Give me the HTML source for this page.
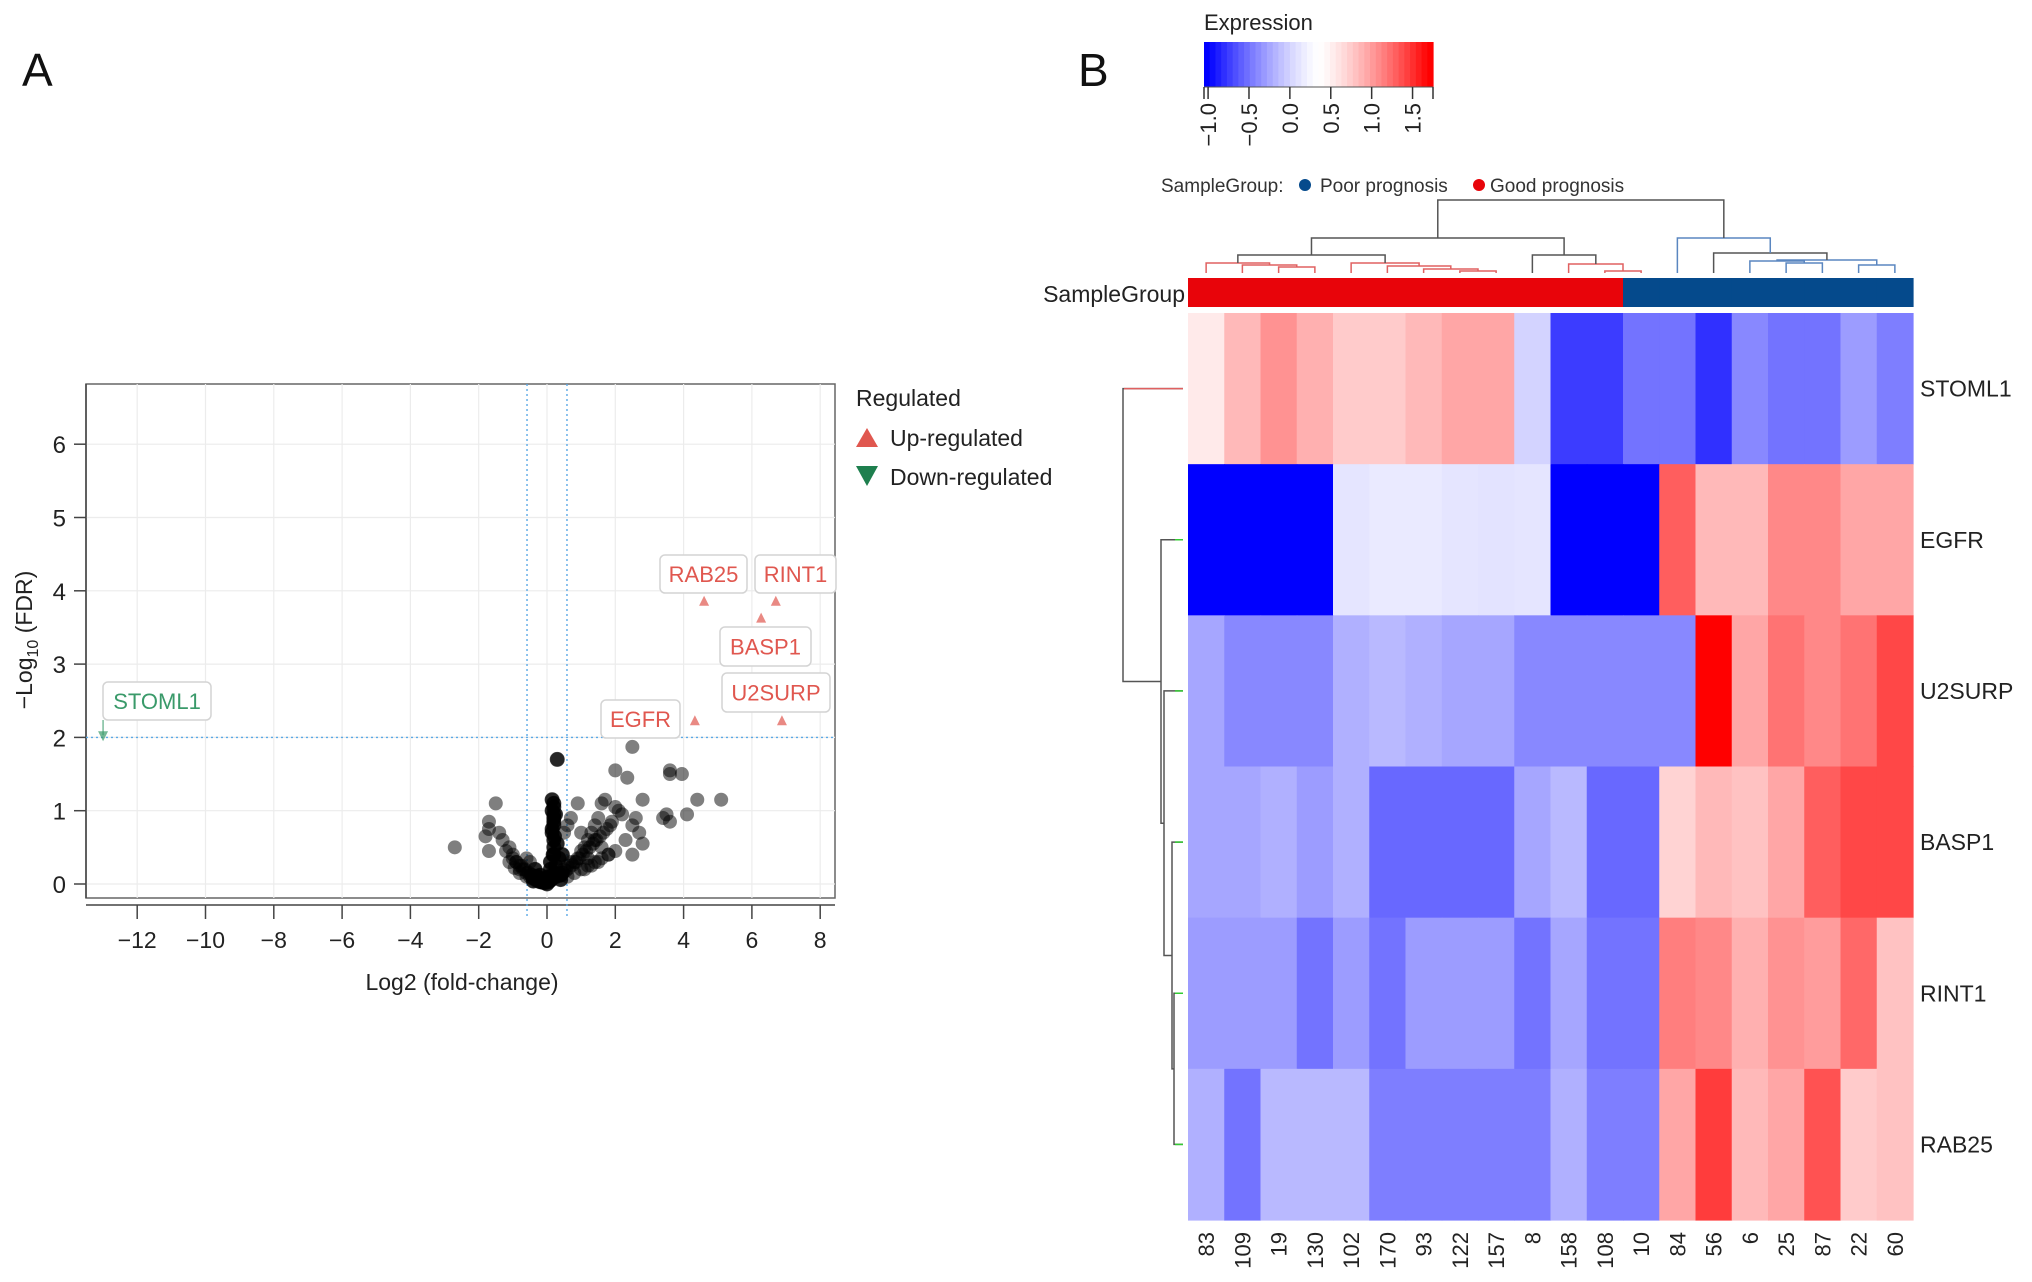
<!DOCTYPE html>
<html><head><meta charset="utf-8">
<style>
html,body{margin:0;padding:0;background:#fff;}
svg{display:block;font-family:"Liberation Sans",sans-serif;}
</style></head>
<body>
<svg id="fig" width="2032" height="1282" viewBox="0 0 2032 1282" xmlns="http://www.w3.org/2000/svg">
<text x="22" y="86" font-size="46" fill="#111">A</text>
<text x="1078" y="86" font-size="46" fill="#111">B</text>
<g id="volcano"></g>
<g id="heat"></g>
</svg>
<script>
// ---------- Volcano data ----------
const xTicks = [-12,-10,-8,-6,-4,-2,0,2,4,6,8];
const yTicks = [0,1,2,3,4,5,6];
const bgX = [0.3,2.5,2.0,2.35,3.6,3.6,3.95,4.4,5.1,4.1,3.4,3.6,3.5,2.8,2.5,2.7,2.8,2.5,2.3,2.0,1.7,1.6,1.5,1.4,1.3,1.2,1.1,1.0,0.9,0.8,1.6,1.8,1.5,1.3,0.9,0.6,0.5,1.0,2.2,2.6,-1.5,-1.7,-1.7,-1.7,-1.4,-1.3,-1.1,-1.0,-0.9,-0.8,-0.7,-2.7,-1.8,-0.6,-0.5,-0.4,-0.3,-0.2,0.2,0.1,0.15,0.2,0.15,0.2,0.2,0.15,0.2,0.2,0.1,0.05,0.3,0.4,0.5,0.6,0.7,-0.1,0,0.1,-0.35,0.35,0.25,-0.6,1.1,1.2,0.2,0.2,0.2,0.15,-0.2,-0.1,0.0,0.1,0.3,0.45,-0.5,-0.8,1.9,2.1,1.4,0.7,
 -1.2,-1.0,-0.9,-0.75,-0.65,-0.55,-0.45,-0.35,-0.25,-0.15,-0.05,0.05,0.12,0.25,0.35,0.45,0.55,0.65,0.75,0.85,0.95,1.05,1.15,1.25,1.35,1.45,1.55,1.65,1.75,1.85,-1.1,-0.95,-0.8,-0.6,-0.4,0.4,0.6,0.8,1.0,1.2,1.4,1.6,1.8,2.0,-0.3,-0.15,0.0,0.18,0.22,0.25];
const bgY = [1.7,1.87,1.55,1.45,1.55,1.5,1.5,1.15,1.15,0.95,0.9,0.85,0.95,1.15,0.8,0.7,0.55,0.4,0.6,1.05,1.15,1.1,0.9,0.8,0.7,0.6,0.5,0.45,0.35,0.3,0.5,0.4,0.3,0.25,1.1,0.8,0.7,0.7,0.95,0.9,1.1,0.85,0.75,0.45,0.7,0.6,0.5,0.4,0.3,0.25,0.2,0.5,0.65,0.15,0.1,0.08,0.05,0.03,0.4,0.2,1.15,1.1,1.0,0.9,0.8,0.7,0.6,0.5,0.3,0.1,0.15,0.12,0.2,0.25,0.3,0.02,0,0.05,0.2,0.35,0.25,0.35,0.2,0.35,1.05,0.95,0.85,0.75,0.12,0.08,0.05,0.1,0.55,0.4,0.3,0.2,0.85,1.0,0.6,0.9,
 0.45,0.35,0.3,0.25,0.2,0.16,0.12,0.08,0.05,0.03,0.02,0.03,0.06,0.1,0.12,0.15,0.18,0.22,0.26,0.3,0.35,0.4,0.45,0.5,0.55,0.6,0.65,0.7,0.75,0.8,0.3,0.22,0.15,0.1,0.04,0.06,0.1,0.15,0.2,0.25,0.3,0.35,0.4,0.45,0.1,0.06,0.08,0.4,0.65,0.95];
const sigGenes = ["RAB25","RINT1","BASP1","U2SURP","EGFR","STOML1"];
const sigX = [4.6,6.7,6.27,6.88,4.33,-13.0];
const sigY = [3.85,3.85,3.62,2.22,2.22,2.03];
const sigDir = ["up","up","up","up","up","down"];

// ---------- Heatmap data ----------
const samples = ["83","109","19","130","102","170","93","122","157","8","158","108","10","84","56","6","25","87","22","60"];
const sampleGroup = ["G","G","G","G","G","G","G","G","G","G","G","G","P","P","P","P","P","P","P","P"];
const genes = ["STOML1","EGFR","U2SURP","BASP1","RINT1","RAB25"];
const exprSTOML1 = [0.55,0.85,1.05,0.9,0.75,0.75,0.85,0.95,0.95,0.0,-0.75,-0.75,-0.5,-0.5,-0.8,-0.4,-0.5,-0.5,-0.3,-0.45];
const exprEGFR   = [-1,-1,-1,-1,0.12,0.15,0.15,0.12,0.1,0.12,-1,-1,-1,1.3,0.85,0.85,1.1,1.1,0.95,0.95];
const exprU2SURP = [-0.25,-0.4,-0.4,-0.4,-0.2,-0.15,-0.2,-0.25,-0.25,-0.4,-0.4,-0.4,-0.4,-0.4,1.7,0.95,1.2,1.1,1.2,1.4];
const exprBASP1  = [-0.25,-0.25,-0.2,-0.3,-0.2,-0.55,-0.55,-0.55,-0.55,-0.25,-0.15,-0.55,-0.55,0.7,0.85,0.8,0.95,1.3,1.4,1.4];
const exprRINT1  = [-0.3,-0.3,-0.3,-0.5,-0.3,-0.5,-0.3,-0.3,-0.3,-0.5,-0.25,-0.5,-0.5,1.15,1.1,0.9,1.05,1.0,1.25,0.8];
const exprRAB25  = [-0.2,-0.5,-0.15,-0.15,-0.15,-0.45,-0.45,-0.45,-0.45,-0.45,-0.2,-0.45,-0.45,0.95,1.45,0.85,0.95,1.35,0.75,0.8];
const exprRows = [exprSTOML1,exprEGFR,exprU2SURP,exprBASP1,exprRINT1,exprRAB25];
const legendTicks = [-1.0,-0.5,0.0,0.5,1.0,1.5];

const NS="http://www.w3.org/2000/svg";
function mk(parent,tag,attrs,text){const e=document.createElementNS(NS,tag);for(const k in attrs)e.setAttribute(k,attrs[k]);if(text!==undefined)e.textContent=text;parent.appendChild(e);return e;}

// ---------- Volcano ----------
(function(){
const g=document.getElementById('volcano');
const L=86,R=835,T=384,B=898;
const sx=v=>547+v*34.15, sy=v=>884-v*73.3;
const panel=mk(g,'rect',{x:L,y:T,width:R-L,height:B-T,fill:'#fff',stroke:'#666','stroke-width':1.5});


xTicks.forEach(t=>{
  const gl=mk(g,'line',{x1:sx(t),x2:sx(t),y1:T,y2:B,stroke:'#ececec','stroke-width':1.2});
  
  
  mk(g,'line',{x1:sx(t),x2:sx(t),y1:905,y2:919,stroke:'#444','stroke-width':1.5});
  const tl=mk(g,'text',{x:sx(t),y:948,'font-size':23,'text-anchor':'middle',fill:'#222'},(t<0?'\u2212'+(-t):t));
  
  
});
yTicks.forEach(t=>{
  const gl=mk(g,'line',{x1:L,x2:R,y1:sy(t),y2:sy(t),stroke:'#ececec','stroke-width':1.2});
  
  
  mk(g,'line',{x1:74,x2:L,y1:sy(t),y2:sy(t),stroke:'#444','stroke-width':1.5});
  const tl=mk(g,'text',{x:66,y:sy(t)+9,'font-size':24,'text-anchor':'end',fill:'#222'},t);
  
  
});
mk(g,'line',{x1:L,x2:R,y1:905,y2:905,stroke:'#444','stroke-width':1.5});
mk(g,'line',{x1:L,x2:L,y1:T,y2:B,stroke:'#444','stroke-width':1.5});
[-0.585,0.585].forEach(v=>{const l=mk(g,'line',{x1:sx(v),x2:sx(v),y1:T,y2:918,stroke:'#5aa9e6','stroke-width':1.4,'stroke-dasharray':'2,3'});
 
 });
const hl=mk(g,'line',{x1:L,x2:R,y1:sy(2),y2:sy(2),stroke:'#5aa9e6','stroke-width':1.4,'stroke-dasharray':'2,3'});


for(let i=0;i<bgX.length;i++){
  const c=mk(g,'circle',{cx:sx(bgX[i]),cy:sy(bgY[i]),r:7,fill:'#000','fill-opacity':0.5});
  
  
}
for(let i=0;i<bgX.length;i++){ if(Math.abs(bgX[i])<0.5){
  const c=mk(g,'circle',{cx:sx(bgX[i]),cy:sy(bgY[i]),r:7.5,fill:'#000','fill-opacity':0.7});
  
  
}}
const boxes={RAB25:[660,555,87,38],RINT1:[755,555,81,38],BASP1:[720,627,91,39],U2SURP:[722,673,108,39],EGFR:[601,700,79,38],STOML1:[103,682,108,38]};
sigGenes.forEach((n,i)=>{
  const up=sigDir[i]==='up', col=up?'#e0574f':'#3a9a6a';
  const px=sx(sigX[i]), py=sy(sigY[i]);
  const tri=mk(g,'path',{d:up?`M${px-5},${py+4}L${px+5},${py+4}L${px},${py-6}Z`:`M${px-5},${py-4}L${px+5},${py-4}L${px},${py+6}Z`,fill:col,'fill-opacity':0.7});
  
  
  const b=boxes[n];
  const r=mk(g,'rect',{x:b[0],y:b[1],width:b[2],height:b[3],rx:5,fill:'#fff',stroke:'#d4d4d4','stroke-width':1.5});
  
  
  const t=mk(g,'text',{x:b[0]+b[2]/2,y:b[1]+b[3]/2+8,'font-size':22,'text-anchor':'middle',fill:col},n);
  
  
});
mk(g,'line',{x1:sx(-13),x2:sx(-13),y1:720,y2:sy(2.03),stroke:'#3a9a6a','stroke-width':1});
const xt=mk(g,'text',{x:462,y:990,'font-size':23,'text-anchor':'middle',fill:'#222'},'Log2 (fold-change)');


const yt=mk(g,'text',{transform:'translate(32,640) rotate(-90)','font-size':23,'text-anchor':'middle',fill:'#222'});


yt.innerHTML='\u2212Log<tspan font-size="16" dy="6">10</tspan><tspan dy="-6"> (FDR)</tspan>';
const lt=mk(g,'text',{x:856,y:406,'font-size':23,fill:'#222'},'Regulated');


const u=mk(g,'path',{d:'M856,447L878,447L867,428Z',fill:'#e0574f'});


const ut=mk(g,'text',{x:890,y:446,'font-size':23,fill:'#222'},'Up-regulated');


const d=mk(g,'path',{d:'M856,466L878,466L867,486Z',fill:'#1e7f4e'});


const dt=mk(g,'text',{x:890,y:485,'font-size':23,fill:'#222'},'Down-regulated');


})();

// ---------- Heatmap ----------
(function(){
const g=document.getElementById('heat');
const HL=1188,HR=1913,HT=313,HB=1220;
const cw=(HR-HL)/samples.length, rh=(HB-HT)/genes.length;
const vmin=-1.05,vmid=0.35,vmax=1.75;
function col(v){
  let r,gg,b;
  if(v<=vmid){let t=Math.min(1,(vmid-v)/(vmid+1));t=Math.pow(t,1.3);r=Math.round(255*(1-t));gg=r;b=255;}
  else{let t=Math.min(1,(v-vmid)/(1.7-vmid));t=Math.pow(t,1.3);r=255;gg=Math.round(255*(1-t));b=gg;}
  return `rgb(${r},${gg},${b})`;
}
exprRows.forEach((row,ri)=>{
  row.forEach((v,ci)=>{
    const c=mk(g,'rect',{x:HL+ci*cw,y:HT+ri*rh,width:cw+0.6,height:rh+0.6,fill:col(v)});
    
    
  });
  const t=mk(g,'text',{x:HR+7,y:HT+ri*rh+rh/2+8,'font-size':23,fill:'#222'},genes[ri]);
  
  
});
samples.forEach((s,ci)=>{
  const cx=HL+ci*cw+cw/2;
  const r=mk(g,'rect',{x:HL+ci*cw,y:278,width:cw+0.6,height:29,fill:sampleGroup[ci]==='G'?'#e8040a':'#054a8c'});
  
  
  const t=mk(g,'text',{transform:`translate(${cx+8},1232) rotate(-90)`,'font-size':22,'text-anchor':'end',fill:'#222'},s);
  
  
});
const sgl=mk(g,'text',{x:HL-3,y:302,'font-size':23,'text-anchor':'end',fill:'#222'},'SampleGroup');


const lg=mk(g,'text',{x:1161,y:192,'font-size':19,fill:'#333'},'SampleGroup:');


mk(g,'circle',{cx:1305,cy:185,r:6,fill:'#054a8c'});
const lp=mk(g,'text',{x:1320,y:192,'font-size':19,fill:'#333'},'Poor prognosis');


mk(g,'circle',{cx:1479,cy:185,r:6,fill:'#e8040a'});
const lgd=mk(g,'text',{x:1490,y:192,'font-size':19,fill:'#333'},'Good prognosis');


const CL=1204,CR=1433,CT=42,CB=87;
const cs=v=>CL+(v-vmin)/(vmax-vmin)*(CR-CL);
const steps=40;
for(let i=0;i<steps;i++){
  const v=vmin+(i+0.5)*(vmax-vmin)/steps;
  mk(g,'rect',{x:CL+i*(CR-CL)/steps,y:CT,width:(CR-CL)/steps+0.6,height:CB-CT,fill:col(v)});
}
const et=mk(g,'text',{x:1204,y:30,'font-size':22,fill:'#222'},'Expression');


mk(g,'line',{x1:CL,x2:CR,y1:CB,y2:CB,stroke:'#555','stroke-width':1});
mk(g,'line',{x1:CR,x2:CR,y1:CB,y2:CB+12,stroke:'#333','stroke-width':1.5});
mk(g,'line',{x1:CL,x2:CL,y1:CB,y2:CB+12,stroke:'#333','stroke-width':1.5});
legendTicks.forEach(t=>{
  mk(g,'line',{x1:cs(t),x2:cs(t),y1:CB,y2:CB+12,stroke:'#333','stroke-width':1.5});
  const tl=mk(g,'text',{transform:`translate(${cs(t)+8},${CB+16}) rotate(-90)`,'font-size':22,'text-anchor':'end',fill:'#222'},(t<0?'\u2212':'')+Math.abs(t).toFixed(1));
  
  
});
const cx=i=>HL+i*cw+cw/2;
const nodes={};
function node(id,a,b,h,color){
  const pa=typeof a==='number'?{x:cx(a),y:273}:nodes[a];
  const pb=typeof b==='number'?{x:cx(b),y:273}:nodes[b];
  mk(g,'path',{d:`M${pa.x},${pa.y}V${h}H${pb.x}V${pb.y}`,fill:'none',stroke:color,'stroke-width':1.5});
  nodes[id]={x:(pa.x+pb.x)/2,y:h};
}
const rc='#e06060',bc='#5a86c0',gc='#555';
node('a',2,3,267,rc);node('b',1,'a',265,rc);node('c',0,'b',263,rc);
node('d',7,8,271,rc);node('e',6,'d',269,rc);node('f',5,'e',266,rc);node('g',4,'f',263,rc);
node('h','c','g',255,gc);
node('i',11,12,271,rc);node('j',10,'i',264,rc);node('k',9,'j',255,gc);
node('L','h','k',238,gc);
node('l',18,19,265,bc);node('m',16,17,263,bc);node('n',15,'m',261,bc);node('o','n','l',260,bc);node('p',14,'o',253,gc);node('q',13,'p',238,bc);
node('root','L','q',200,gc);
const ry=i=>HT+i*rh+rh/2;
const rn={};
function rnode(id,a,b,x,color){
  const pa=typeof a==='number'?{x:1183,y:ry(a)}:rn[a];
  const pb=typeof b==='number'?{x:1183,y:ry(b)}:rn[b];
  mk(g,'path',{d:`M${pa.x},${pa.y}H${x}V${pb.y}H${pb.x}`,fill:'none',stroke:color,'stroke-width':1.5});
  rn[id]={x:x,y:(pa.y+pb.y)/2};
}
rnode('r1',4,5,1174,'#555');
rnode('r2',3,'r1',1172,'#555');
rnode('r3',2,'r2',1164,'#555');
rnode('r4',1,'r3',1161,'#555');
rnode('r5',0,'r4',1123,'#555');
[1,2,3,4,5].forEach(i=>mk(g,'line',{x1:1175,x2:1183,y1:ry(i),y2:ry(i),stroke:'#33cc33','stroke-width':1.5}));
mk(g,'line',{x1:1124,x2:1183,y1:ry(0),y2:ry(0),stroke:'#e06060','stroke-width':1.5});
})();
</script>
</body></html>
